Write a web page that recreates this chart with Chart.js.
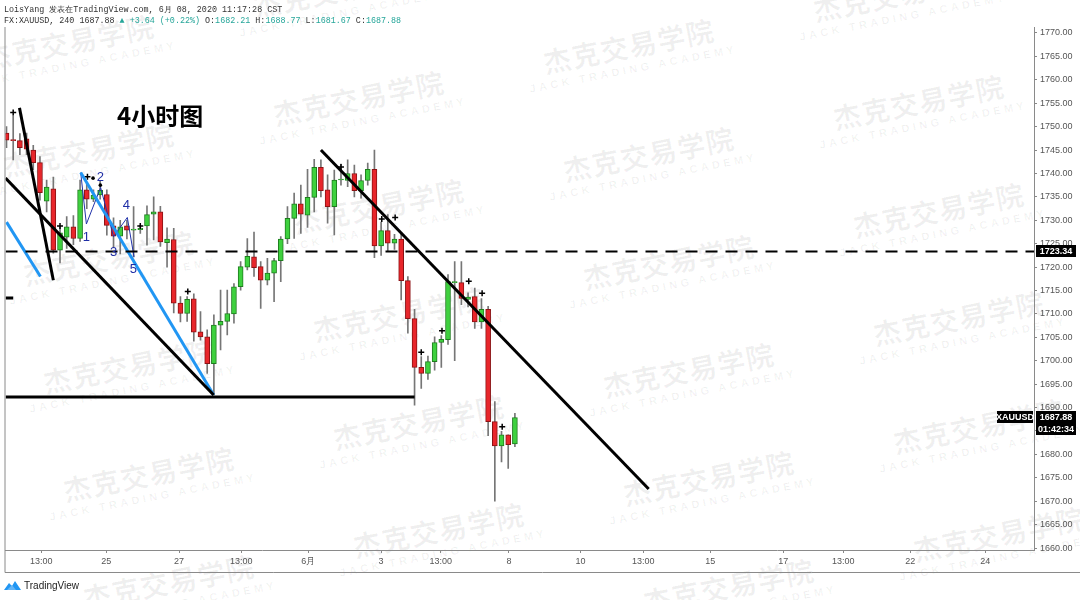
<!DOCTYPE html>
<html>
<head>
<meta charset="utf-8">
<script src="https://cdn.jsdelivr.net/npm/chart.js@4.4.1/dist/chart.umd.min.js"></script>
<style>
  html, body { margin: 0; padding: 0; background: #fff; }
  #wrap { position: relative; width: 1080px; height: 600px; overflow: hidden; }
  #marks { position: absolute; left: 0; top: 0; width: 1080px; height: 600px; }
  .wm { position: absolute; transform: translate(-50%, -50%) rotate(-11deg); text-align: center; white-space: nowrap; color: rgba(0,0,0,0.06); }
  .wm .cn { font: bold 28px 'Noto Sans CJK SC'; letter-spacing: 1px; line-height: 34px; }
  .wm .en { font: bold 11px 'Liberation Sans'; letter-spacing: 3.5px; line-height: 14px; }
  #chart { position: absolute; left: 0; top: 0; }
  .hdr { position: absolute; left: 4px; font: 8.4px 'Liberation Mono', 'DejaVu Sans Mono', monospace; color: #333; white-space: nowrap; }
  .hdr .v { color: #26a69a; }
  #title { position: absolute; left: 117px; top: 97px; font: bold 24px 'Noto Sans CJK SC'; color: #000; }
  #logo { position: absolute; left: 4px; top: 580px; font: 10px 'Liberation Sans'; color: #222; display: flex; align-items: center; gap: 3px; }
</style>
</head>
<body>
<div id="wrap">
  <div id="marks"></div>
  <canvas id="chart" width="1080" height="600"></canvas>
  <div class="hdr" style="top:4px">LoisYang 发表在TradingView.com, 6月 08, 2020 11:17:28 CST</div>
  <div class="hdr" style="top:16px">FX:XAUUSD, 240 1687.88 <span class="v">▲ +3.64 (+0.22%)</span> O:<span class="v">1682.21</span> H:<span class="v">1688.77</span> L:<span class="v">1681.67</span> C:<span class="v">1687.88</span></div>
  <div id="title">4小时图</div>
  <div id="logo">
    <svg width="17" height="11" viewBox="0 0 17 11"><path d="M0 10 L5 3 L8 6 L11 1 L17 10 Z" fill="#2196f3"/><path d="M3 10 L8 5 L12 10 Z" fill="#64b5f6"/></svg>
    <span>TradingView</span>
  </div>
</div>
<script>
// 4H XAUUSD candles, one per bar slot
const opens  = [1748.6,1747.2,1747.0,1747.4,1745.0,1742.3,1734.1,1736.7,1723.6,1726.4,1728.6,1726.1,1736.5,1734.5,1735.4,1735.5,1728.8,1726.6,1728.8,1727.9,
                1728.0,1728.8,1731.3,1731.8,1725.2,1725.9,1712.3,1710.1,1713.2,1706.2,1705.1,1699.4,1707.6,1708.4,1710.0,1715.8,1720.0,1722.2,1720.1,1717.2,
                1718.7,1721.4,1726.0,1730.4,1733.5,1731.1,1734.9,1741.3,1736.5,1732.9,1738.6,1738.5,1740.0,1736.3,1738.5,1740.9,1724.5,1727.8,1725.1,1726.0,
                1717.1,1709.0,1698.6,1697.3,1699.8,1703.9,1704.5,1716.7,1716.7,1713.1,1713.7,1708.3,1711.0,1687.0,1681.8,1684.2,1682.21];
const highs  = [1750.0,1752.3,1748.5,1748.6,1746.0,1743.6,1738.6,1739.2,1728.6,1730.8,1731.0,1738.6,1738.0,1736.5,1738.5,1736.5,1730.5,1730.0,1730.0,1732.9,
                1729.0,1733.1,1735.0,1733.0,1728.4,1728.3,1713.7,1713.7,1714.3,1710.5,1706.6,1709.8,1715.1,1715.1,1716.5,1721.2,1726.1,1727.5,1721.2,1721.9,
                1721.9,1726.5,1732.9,1735.8,1737.5,1740.9,1743.0,1742.9,1739.7,1740.7,1742.0,1742.9,1741.8,1739.7,1742.2,1745.0,1729.6,1731.2,1727.0,1727.0,
                1718.0,1711.0,1700.9,1701.0,1705.1,1705.4,1718.4,1721.2,1721.2,1714.5,1715.5,1713.3,1711.6,1691.3,1684.9,1684.2,1688.77];
const lows   = [1745.5,1742.9,1744.0,1744.0,1740.8,1734.3,1731.8,1723.0,1720.9,1724.0,1724.8,1725.5,1732.5,1734.0,1734.5,1726.8,1724.2,1722.8,1726.0,1722.2,
                1727.2,1724.7,1725.8,1724.4,1720.0,1710.2,1708.3,1708.4,1704.2,1704.4,1697.3,1692.7,1702.3,1705.5,1708.0,1715.1,1719.4,1718.0,1711.2,1716.2,
                1712.6,1716.9,1725.0,1726.1,1727.2,1728.5,1731.8,1735.0,1729.4,1726.9,1737.5,1737.2,1735.0,1734.7,1737.5,1722.0,1722.5,1723.5,1723.8,1713.0,
                1705.9,1690.5,1694.1,1696.0,1698.0,1698.6,1703.5,1700.0,1712.0,1711.5,1706.9,1706.9,1684.0,1670.0,1678.4,1677.0,1681.67];
const closes = [1747.1,1747.0,1745.5,1745.2,1742.3,1735.9,1737.1,1723.6,1727.3,1728.6,1726.1,1736.5,1734.5,1735.4,1736.4,1728.9,1726.6,1728.6,1727.9,1728.0,
                1728.3,1731.2,1731.8,1725.4,1726.0,1712.3,1710.1,1713.1,1706.1,1705.1,1699.4,1707.6,1708.4,1710.1,1715.8,1720.1,1722.3,1719.9,1717.2,1718.7,
                1721.4,1726.0,1730.4,1733.5,1731.3,1734.9,1741.3,1736.3,1732.9,1738.6,1738.8,1740.0,1736.3,1738.5,1740.9,1724.5,1727.8,1725.1,1726.0,1717.1,
                1709.0,1698.6,1697.3,1699.8,1703.9,1704.6,1716.9,1716.9,1713.3,1713.6,1708.3,1711.0,1687.0,1681.8,1684.2,1682.1,1687.88];

// axis ticks
const priceTicks = [1660,1665,1670,1675,1680,1685,1690,1695,1700,1705,1710,1715,1720,1725,1730,1735,1740,1745,1750,1755,1760,1765,1770];
const timeTickPos = [5.2, 14.9, 25.8, 35.1, 45.1, 56, 64.9, 75.1, 85.8, 95.2, 105.2, 116.1, 125.1, 135.1, 146.3];
const timeTickLabels = ['13:00','25','27','13:00','6月','3','13:00','8','10','13:00','15','17','13:00','22','24'];

// drawings: [barIndex, price] pairs
const steepLine   = [[1.94, 1754.0], [7.0, 1717.2]];
const blackDiag   = [[-0.15, 1739.0], [30.97, 1692.7]];
const blueShort   = [[0, 1729.6], [5.07, 1718.0]];
const blueLong    = [[11.09, 1740.2], [30.97, 1692.7]];
const downTrend   = [[47.0, 1745.0], [96.0, 1672.6]];
const floorLine   = [[-0.15, 1692.25], [61.0, 1692.25]];
const leftStub    = [[-0.15, 1713.4], [1.0, 1713.4]];
const level       = 1723.34;
const wavePts     = [[11.09, 1740.2], [11.94, 1729.2], [14.07, 1737.0], [16.0, 1726.5], [18.06, 1730.6], [19.06, 1722.2]];
const waveLabels  = ['1','2','3','4','5'];
const waveLabelPos = [[11.94, 1726.4], [14.03, 1739.2], [16.0, 1723.2], [17.9, 1733.1], [18.96, 1719.6]];
const markIdx   = [1, 8, 12.1, 20, 27.1, 50, 56.1, 58.1, 62, 65.1, 69.1, 71.1, 74.1];
const markPrice = [1753.0, 1728.8, 1739.3, 1728.8, 1714.8, 1741.4, 1730.3, 1730.6, 1701.8, 1706.4, 1717.0, 1714.4, 1685.9];
const dotIdx   = [12.94, 14.03];
const dotPrice = [1739.0, 1737.5];

const UP = '#3ed13e', UP_EDGE = '#1e7d1e', DN = '#e8262b', DN_EDGE = '#8c1214', WICK = '#767676';

// watermarks
(function () {
  const box = document.getElementById('marks');
  for (let k = -3; k <= 3; k++) {
    for (let m = -2; m <= 5; m++) {
      const cx = 650 + 270 * k + 20 * m, cy = 160 - 52 * k + 108 * m;
      if (cx < -120 || cx > 1200 || cy < -60 || cy > 660) continue;
      const d = document.createElement('div');
      d.className = 'wm';
      d.style.left = cx + 'px';
      d.style.top = cy + 'px';
      d.innerHTML = '<div class="cn">杰克交易学院</div><div class="en">JACK TRADING ACADEMY</div>';
      box.appendChild(d);
    }
  }
})();

const seg = (pts) => pts.map(p => ({ x: p[0], y: p[1] }));
const lineDs = (pts, color, width, dash) => ({
  type: 'line', data: seg(pts), borderColor: color, borderWidth: width,
  borderDash: dash || [], pointRadius: 0, tension: 0, order: 0
});

const overlayPlugin = {
  id: 'overlay',
  afterDatasetsDraw(chart) {
    const { ctx, scales: { x, y } } = chart;
    ctx.save();
    ctx.fillStyle = '#1f2ea6';
    ctx.font = '13px "Liberation Sans"';
    ctx.textAlign = 'center';
    ctx.textBaseline = 'middle';
    waveLabels.forEach((t, i) => {
      ctx.fillText(t, x.getPixelForValue(waveLabelPos[i][0]), y.getPixelForValue(waveLabelPos[i][1]));
    });
    ctx.restore();
  },
  afterDraw(chart) {
    const { ctx, chartArea: a, scales: { y } } = chart;
    ctx.save();
    // pane borders
    ctx.strokeStyle = '#8a8a8a';
    ctx.lineWidth = 1;
    ctx.beginPath();
    ctx.moveTo(a.left - 0.5, a.top); ctx.lineTo(a.left - 0.5, 572.5);
    ctx.lineTo(1080, 572.5);
    ctx.stroke();
    // price tags
    const tag = (x0, w, yy, text) => {
      ctx.fillStyle = '#000';
      ctx.fillRect(x0, Math.round(yy) - 6, w, 12);
      ctx.fillStyle = '#fff';
      ctx.font = 'bold 9px "Liberation Sans"';
      ctx.textAlign = 'center';
      ctx.textBaseline = 'middle';
      ctx.fillText(text, x0 + w / 2, Math.round(yy) + 0.5);
    };
    tag(a.right + 2, 40, y.getPixelForValue(level), level.toFixed(2));
    const last = closes[closes.length - 1];
    const py = y.getPixelForValue(last);
    tag(997, 36, py, 'XAUUSD');
    tag(a.right + 2, 40, py, last.toFixed(2));
    tag(a.right + 2, 40, py + 12, '01:42:34');
    ctx.restore();
  }
};

new Chart(document.getElementById('chart'), {
  type: 'bar',
  data: {
    datasets: [
      lineDs([[-0.15, level], [160, level]], '#000', 2, [12, 8]),
      lineDs(steepLine, '#000', 3),
      lineDs(blackDiag, '#000', 3),
      lineDs(downTrend, '#000', 3),
      lineDs(floorLine, '#000', 3),
      lineDs(leftStub, '#000', 3),
      lineDs(blueShort, '#2196f3', 3),
      lineDs(blueLong, '#2196f3', 3),
      lineDs(wavePts, '#2233aa', 1),
      {
        type: 'scatter', data: markIdx.map((v, i) => ({ x: v, y: markPrice[i] })),
        pointStyle: 'cross', pointRadius: 3, borderColor: '#000', borderWidth: 1.5, order: 0
      },
      {
        type: 'scatter', data: dotIdx.map((v, i) => ({ x: v, y: dotPrice[i] })),
        pointStyle: 'circle', pointRadius: 1.8, backgroundColor: '#000', borderWidth: 0, order: 0
      },
      {
        label: 'body',
        data: opens.map((o, i) => ({ x: i, y: [o, closes[i]] })),
        backgroundColor: opens.map((o, i) => closes[i] >= o ? UP : DN),
        borderColor: opens.map((o, i) => closes[i] >= o ? UP_EDGE : DN_EDGE),
        borderWidth: 1, borderSkipped: false, barThickness: 5, minBarLength: 1,
        grouped: false, order: 1
      },
      {
        label: 'wick',
        data: lows.map((l, i) => ({ x: i, y: [l, highs[i]] })),
        backgroundColor: WICK, borderWidth: 0, barThickness: 1,
        grouped: false, order: 2
      }
    ]
  },
  options: {
    responsive: false,
    animation: false,
    devicePixelRatio: 1,
    layout: { padding: { left: 4, top: 27, right: 0, bottom: 28 } },
    plugins: { legend: { display: false }, tooltip: { enabled: false } },
    scales: {
      x: {
        type: 'linear', min: -0.15, max: 153.6, offset: false,
        afterBuildTicks: s => { s.ticks = timeTickPos.map(v => ({ value: v })); },
        afterFit: s => { s.height = 22; },
        ticks: {
          autoSkip: false, maxRotation: 0, padding: 3, color: '#555',
          font: { family: 'Liberation Sans', size: 9 },
          callback: (v, i) => timeTickLabels[i]
        },
        grid: { offset: false, drawOnChartArea: false, drawTicks: true, tickLength: 3, color: '#888' },
        border: { display: true, color: '#8a8a8a' }
      },
      y: {
        position: 'right', min: 1659.58, max: 1771.28,
        afterBuildTicks: s => { s.ticks = priceTicks.map(v => ({ value: v })); },
        afterFit: s => { s.width = 46; },
        ticks: {
          padding: 3, color: '#555',
          font: { family: 'Liberation Sans', size: 9 },
          callback: v => Number(v).toFixed(2)
        },
        grid: { drawOnChartArea: false, drawTicks: true, tickLength: 3, color: '#888' },
        border: { display: true, color: '#8a8a8a' }
      }
    }
  },
  plugins: [overlayPlugin]
});
</script>
</body>
</html>
